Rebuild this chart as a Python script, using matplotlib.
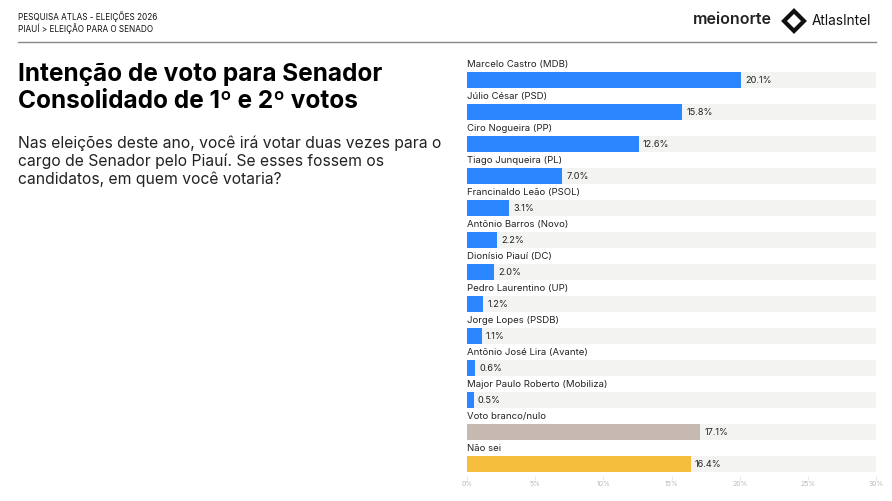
import matplotlib
matplotlib.use("Agg")
import matplotlib.pyplot as plt
from matplotlib.lines import Line2D

plt.rcParams['font.family'] = ['Inter', 'DejaVu Sans']

candidates = ["Marcelo Castro (MDB)", "Júlio César (PSD)", "Ciro Nogueira (PP)",
              "Tiago Junqueira (PL)", "Francinaldo Leão (PSOL)", "Antônio Barros (Novo)",
              "Dionísio Piauí (DC)", "Pedro Laurentino (UP)", "Jorge Lopes (PSDB)",
              "Antônio José Lira (Avante)", "Major Paulo Roberto (Mobiliza)",
              "Voto branco/nulo", "Não sei"]
values = [20.1, 15.8, 12.6, 7.0, 3.1, 2.2, 2.0, 1.2, 1.1, 0.6, 0.5, 17.1, 16.4]
colors = ["#2B86FF"] * 11 + ["#C6B9B1", "#F6BE3D"]
ticks = [0, 5, 10, 15, 20, 25, 30]
tick_labels = ["0%", "5%", "10%", "15%", "20%", "25%", "30%"]
xmax = 30

W, H = 892, 501
fig = plt.figure(figsize=(W / 100, H / 100), dpi=100)
fig.patch.set_facecolor("white")

def fx(px):
    return px / W

def fy(py):
    return 1 - py / H

# header
fig.text(fx(18), fy(17), "PESQUISA ATLAS - ELEIÇÕES 2026", fontsize=5.9, va="center", ha="left", color="#111111")
fig.text(fx(18), fy(29), "PIAUÍ > ELEIÇÃO PARA O SENADO", fontsize=5.9, va="center", ha="left", color="#111111")
fig.add_artist(Line2D([fx(18), fx(876)], [fy(42), fy(42)], color="#888888", lw=1.0))

fig.text(fx(772), fy(20), "meionorte", fontsize=11.5, fontweight="semibold", va="center", ha="right", color="#222222")
fig.add_artist(Line2D([fx(794)], [fy(21)], marker="D", markersize=10, markerfacecolor="white",
                      markeredgecolor="#111111", markeredgewidth=3.0, linestyle="none"))
fig.text(fx(812), fy(21), "AtlasIntel", fontsize=9.8, va="center", ha="left", color="#111111")

# title and subtitle
fig.text(fx(18), fy(74), "Intenção de voto para Senador", fontsize=17.6, fontweight="bold", va="center", ha="left", color="#000000")
fig.text(fx(18), fy(102), "Consolidado de 1º e 2º votos", fontsize=17.6, fontweight="bold", va="center", ha="left", color="#000000")
for i, line in enumerate(["Nas eleições deste ano, você irá votar duas vezes para o",
                          "cargo de Senador pelo Piauí. Se esses fossem os",
                          "candidatos, em quem você votaria?"]):
    fig.text(fx(18), fy(143 + 18 * i), line, fontsize=11.3, va="center", ha="left", color="#222222")

# chart axes
top_px, bot_px = 56, 480
ax = fig.add_axes([fx(467), 1 - bot_px / H, fx(876) - fx(467), (bot_px - top_px) / H])
n = len(values)
ax.set_xlim(0, xmax)
ax.set_ylim(n - 0.5, -0.75)
ypos = list(range(n))
ax.barh(ypos, [xmax] * n, height=0.5, color="#F3F3F1", zorder=1)
ax.barh(ypos, values, height=0.5, color=colors, zorder=2)
for y, v, lab in zip(ypos, values, candidates):
    ax.text(0, y - 0.47, lab, fontsize=6.9, va="center", ha="left", color="#222222")
    ax.text(v + 0.3, y + 0.02, f"{v:.1f}%", fontsize=6.6, va="center", ha="left", color="#222222", zorder=3)

for s in ax.spines.values():
    s.set_visible(False)
ax.set_yticks([])
ax.set_xticks(ticks)
ax.set_xticklabels(tick_labels)
ax.tick_params(axis="x", length=3, width=0.5, color="#dddddd", labelsize=5, labelcolor="#bbbbbb", pad=1, direction="in")
ax.patch.set_alpha(0)

fig.savefig("out.png", dpi=100, facecolor="white")
